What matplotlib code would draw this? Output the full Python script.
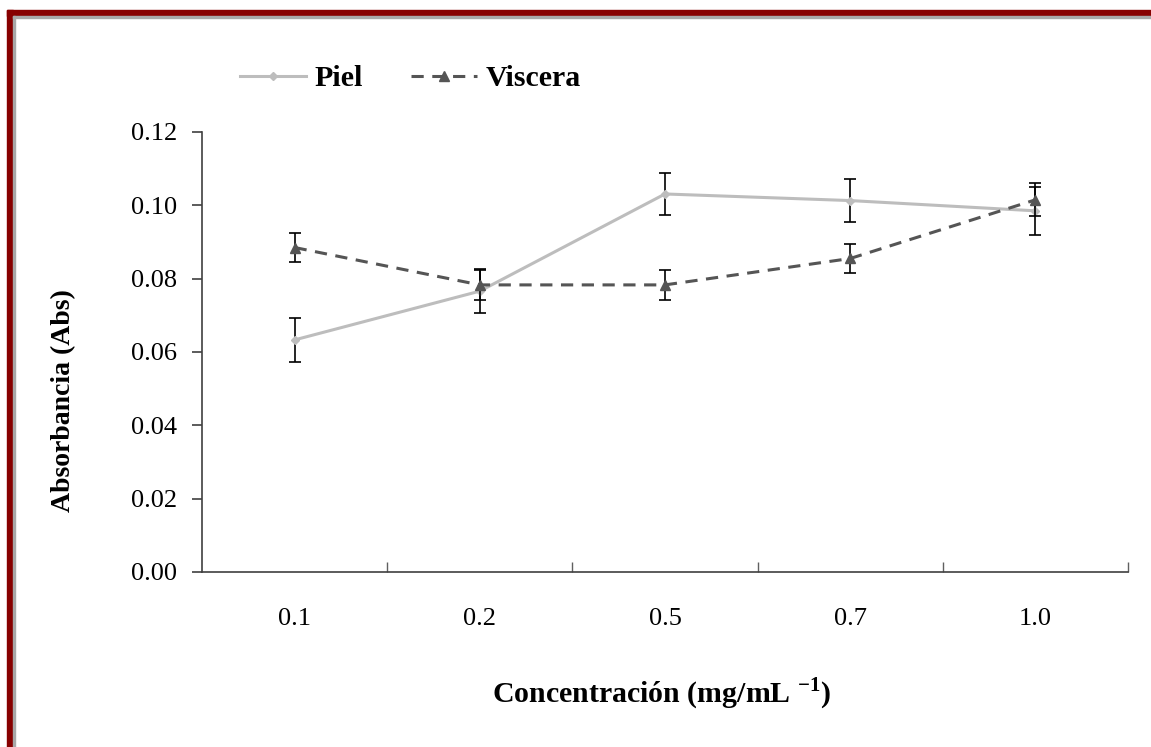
import matplotlib.pyplot as plt
from matplotlib.patches import Rectangle
from matplotlib.lines import Line2D

# categories and measured absorbance (mean +/- sd)
concentrations = ["0.1", "0.2", "0.5", "0.7", "1.0"]
piel = [0.0633, 0.0766, 0.1031, 0.1013, 0.0985]
piel_err = [0.0060, 0.0060, 0.0058, 0.0058, 0.0065]
viscera = [0.0885, 0.0783, 0.0783, 0.0855, 0.1015]
viscera_err = [0.0040, 0.0040, 0.0040, 0.0040, 0.0045]

plt.rcParams['font.family'] = ['Liberation Serif', 'DejaVu Serif']
plt.rcParams['mathtext.fontset'] = 'custom'
plt.rcParams['mathtext.rm'] = 'Liberation Serif:bold'
plt.rcParams['mathtext.bf'] = 'Liberation Serif:bold'

W, H = 1151, 747
fig = plt.figure(figsize=(W / 100, H / 100), dpi=100)

# dark red frame on top and left, with a thin grey inner line
red = '#870000'
fig.patches.append(Rectangle((7 / W, 0), 6 / W, 1 - 10 / H, transform=fig.transFigure,
                             color=red, zorder=0))
fig.patches.append(Rectangle((7 / W, 1 - 16 / H), 1, 6 / H, transform=fig.transFigure,
                             color=red, zorder=0))
fig.patches.append(Rectangle((13 / W, 0), 2 / W, 1 - 16 / H, transform=fig.transFigure,
                             color='#a8a8a8', zorder=0))
fig.patches.append(Rectangle((13 / W, 1 - 18 / H), 1, 2 / H, transform=fig.transFigure,
                             color='#a8a8a8', zorder=0))

ax = fig.add_axes([202 / W, 1 - 572 / H, 926 / W, 440 / H])
x = list(range(len(concentrations)))

ax.errorbar(x, piel, yerr=piel_err, color='#bdbdbd', lw=2.2, marker='D', ms=4,
            ecolor='black', elinewidth=1.2, capsize=4.3, capthick=1.2, zorder=2)
ax.errorbar(x, viscera, yerr=viscera_err, color='#555555', lw=2.2,
            linestyle=(0, (4, 2.8)), marker='^', ms=7,
            ecolor='black', elinewidth=1.2, capsize=4.3, capthick=1.2, zorder=3)

ax.set_xlim(-0.5, len(concentrations) - 0.5)
ax.set_ylim(0, 0.12)
ax.set_yticks([0, 0.02, 0.04, 0.06, 0.08, 0.10, 0.12])
ax.set_yticklabels([f"{v:.2f}" for v in ax.get_yticks()])
ax.set_xticks(x)
ax.set_xticklabels(concentrations)
ax.set_xticks([i + 0.5 for i in x], minor=True)

for s in ['top', 'right']:
    ax.spines[s].set_visible(False)
for s in ['left', 'bottom']:
    ax.spines[s].set_color('#404040')
    ax.spines[s].set_linewidth(1.2)

ax.tick_params(axis='y', direction='out', length=7, width=1.2, color='#404040',
               pad=11, labelsize=19)
ax.tick_params(axis='x', which='major', length=0, pad=26, labelsize=19)
ax.tick_params(axis='x', which='minor', direction='in', length=7, width=1, color='#606060')

ax.set_ylabel("Absorbancia (Abs)", fontsize=20, fontweight='bold')
ax.yaxis.set_label_coords(-0.136, 0.39)
ax.set_xlabel(r"Concentración (mg/mL $^{-1}$)", fontsize=21.5, fontweight='bold')
ax.xaxis.set_label_coords(0.497, -0.235)

handles = [
    Line2D([], [], color='#bdbdbd', lw=2.2, marker='D', ms=4),
    Line2D([], [], color='#555555', lw=2.2, linestyle=(0, (4, 2.8)), marker='^', ms=7),
]
fig.legend(handles, ["Piel", "Viscera"], loc='center left',
           bbox_to_anchor=(240 / W, 1 - 79 / H), ncol=2, frameon=False,
           handlelength=2.2, handletextpad=0.3, columnspacing=1.6,
           borderpad=0, borderaxespad=0,
           prop={'family': 'Liberation Serif', 'weight': 'bold', 'size': 21.5})

fig.savefig("out.png", dpi=100)
